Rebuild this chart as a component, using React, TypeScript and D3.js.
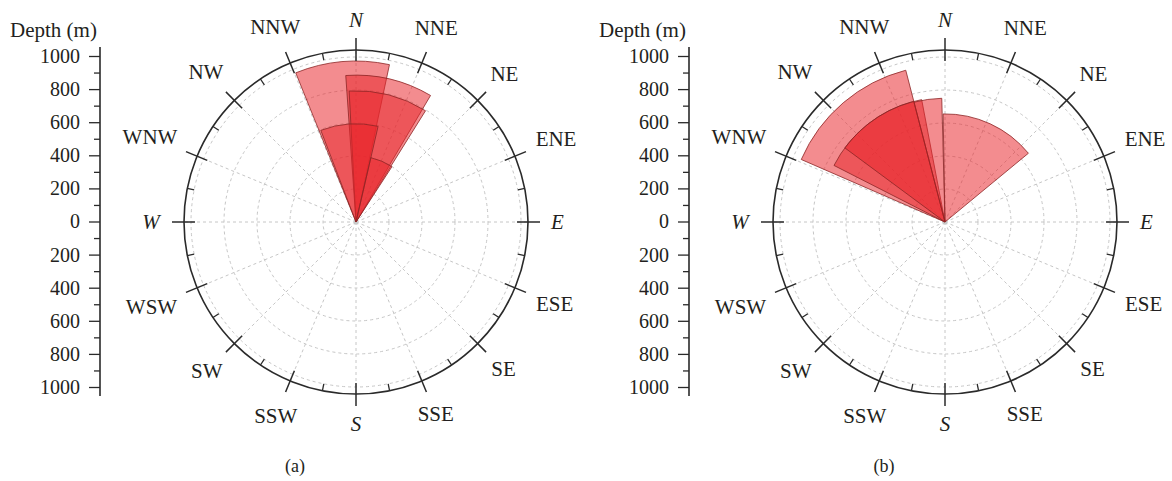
import React, { useEffect, useRef } from 'react';
import * as d3 from 'd3';

const directions = ['N', 'NNE', 'NE', 'ENE', 'E', 'ESE', 'SE', 'SSE', 'S', 'SSW', 'SW', 'WSW', 'W', 'WNW', 'NW', 'NNW'];
const cardinals = ['N', 'E', 'S', 'W'];
const depthRings = [200, 400, 600, 800, 1000];
const depthMajor = [-1000, -800, -600, -400, -200, 0, 200, 400, 600, 800, 1000];
const depthMinor = [-900, -700, -500, -300, -100, 100, 300, 500, 700, 900];

// panel (a): sector azimuths (deg) and depth (m)
const aStart = [-22, -4, -3, -21, 13];
const aEnd = [12, 30.5, 32, 13, 33];
const aDepth = [975, 890, 795, 595, 400];

// panel (b)
const bStart = [-66.5, -63, -53.5, -14.5, -1];
const bEnd = [-14.5, -14.5, -10.8, -1.5, 50.5];
const bDepth = [950, 755, 755, 750, 655];

const FONT = '"Liberation Serif", "DejaVu Serif", serif';
const INK = '#231f20';
const LABEL_SIZE = 21;
const charW: Record<string, number> = { N: 0.722, E: 0.611, S: 0.556, W: 0.944 };

function drawPanel(svg: any, ox: number, starts: number[], ends: number[], depths: number[], tag: string) {
  const cx = ox + 356;
  const cy = 222;
  const r = d3.scaleLinear().domain([0, 1000]).range([0, 165]);
  const rOuter = 172;
  const rad = (deg: number) => (deg * Math.PI) / 180;

  const g = svg.append('g').attr('transform', `translate(${cx},${cy})`);

  // dashed grid
  g.selectAll('circle.ring')
    .data(depthRings)
    .join('circle')
    .attr('class', 'ring')
    .attr('r', (d: number) => r(d))
    .attr('fill', 'none')
    .attr('stroke', '#c6c6c6')
    .attr('stroke-width', 1)
    .attr('stroke-dasharray', '3,3');

  g.selectAll('line.spoke')
    .data(d3.range(16))
    .join('line')
    .attr('class', 'spoke')
    .attr('x2', (i: number) => rOuter * Math.sin(rad(i * 22.5)))
    .attr('y2', (i: number) => -rOuter * Math.cos(rad(i * 22.5)))
    .attr('stroke', '#c6c6c6')
    .attr('stroke-width', 1)
    .attr('stroke-dasharray', '3,3');

  // sectors
  const arc = d3.arc<any>();
  const data = starts.map((s, i) => ({ s, e: ends[i], d: depths[i] }));
  g.selectAll('path.wedge')
    .data(data)
    .join('path')
    .attr('class', 'wedge')
    .attr('d', (d: any) =>
      arc({ innerRadius: 0, outerRadius: r(d.d), startAngle: rad(d.s), endAngle: rad(d.e) })
    )
    .attr('fill', '#e8262b')
    .attr('fill-opacity', 0.53)
    .attr('stroke', '#8c2626')
    .attr('stroke-opacity', 0.8)
    .attr('stroke-width', 1)
    .attr('stroke-linejoin', 'round');

  // outer ring + ticks
  g.append('circle').attr('r', rOuter).attr('fill', 'none').attr('stroke', '#2a2a2a').attr('stroke-width', 1.6);

  g.selectAll('line.major')
    .data(d3.range(16))
    .join('line')
    .attr('class', 'major')
    .attr('x1', (i: number) => 161 * Math.sin(rad(i * 22.5)))
    .attr('y1', (i: number) => -161 * Math.cos(rad(i * 22.5)))
    .attr('x2', (i: number) => 184 * Math.sin(rad(i * 22.5)))
    .attr('y2', (i: number) => -184 * Math.cos(rad(i * 22.5)))
    .attr('stroke', '#2a2a2a')
    .attr('stroke-width', 1.5);

  g.selectAll('line.minor')
    .data(d3.range(16))
    .join('line')
    .attr('class', 'minor')
    .attr('x1', (i: number) => 165 * Math.sin(rad(i * 22.5 + 11.25)))
    .attr('y1', (i: number) => -165 * Math.cos(rad(i * 22.5 + 11.25)))
    .attr('x2', (i: number) => rOuter * Math.sin(rad(i * 22.5 + 11.25)))
    .attr('y2', (i: number) => -rOuter * Math.cos(rad(i * 22.5 + 11.25)))
    .attr('stroke', '#2a2a2a')
    .attr('stroke-width', 1.3);

  // compass labels
  const labelPos = (name: string, i: number) => {
    const th = rad(i * 22.5);
    const w = name.split('').reduce((a, c) => a + charW[c] * LABEL_SIZE, 0);
    const R = 195 + (w / 2) * Math.abs(Math.sin(th)) + 7 * Math.abs(Math.cos(th));
    return [R * Math.sin(th), -R * Math.cos(th)];
  };
  g.selectAll('text.dir')
    .data(directions)
    .join('text')
    .attr('class', 'dir')
    .attr('x', (d: string, i: number) => labelPos(d, i)[0])
    .attr('y', (d: string, i: number) => labelPos(d, i)[1])
    .attr('dy', '0.33em')
    .attr('text-anchor', 'middle')
    .attr('font-family', FONT)
    .attr('font-size', LABEL_SIZE)
    .attr('font-style', (d: string) => (cardinals.includes(d) ? 'italic' : 'normal'))
    .attr('fill', INK)
    .text((d: string) => d);

  // depth axis
  const y = d3.scaleLinear().domain([-1000, 1000]).range([cy + 165, cy - 166]);
  const ax = svg.append('g').attr('transform', `translate(${ox + 100},0)`).attr('color', '#2a2a2a');
  ax.append('g')
    .call(d3.axisLeft(y).tickValues(depthMinor).tickSize(6).tickSizeOuter(0).tickFormat(() => ''))
    .call((s: any) => s.select('.domain').remove())
    .selectAll('line')
    .attr('stroke-width', 1.3);
  const major = ax
    .append('g')
    .call(
      d3
        .axisLeft(y)
        .tickValues(depthMajor)
        .tickSize(11)
        .tickSizeOuter(0)
        .tickPadding(9)
        .tickFormat((d: any) => String(Math.abs(d)))
    )
    .attr('font-family', FONT)
    .attr('font-size', 20);
  major.select('.domain').remove();
  major.selectAll('line').attr('stroke-width', 1.3);
  major.selectAll('text').attr('fill', INK);
  ax.append('line')
    .attr('y1', y(1000) - 9)
    .attr('y2', y(-1000) + 9)
    .attr('stroke', '#2a2a2a')
    .attr('stroke-width', 1.6);

  svg.append('text')
    .attr('x', ox + 10)
    .attr('y', 37)
    .attr('font-family', FONT)
    .attr('font-size', LABEL_SIZE)
    .attr('fill', INK)
    .text('Depth (m)');

  svg.append('text')
    .attr('x', cx - 61)
    .attr('y', 472)
    .attr('text-anchor', 'middle')
    .attr('font-family', FONT)
    .attr('font-size', 18)
    .attr('fill', INK)
    .text(tag);
}

export default function App() {
  const ref = useRef<SVGSVGElement>(null);

  useEffect(() => {
    const svg = d3.select(ref.current);
    svg.selectAll('*').remove();
    drawPanel(svg, 0, aStart, aEnd, aDepth, '(a)');
    drawPanel(svg, 589, bStart, bEnd, bDepth, '(b)');
  }, []);

  return (
    <svg
      ref={ref}
      width={1172}
      height={481}
      style={{ position: 'absolute', left: 0, top: 0, background: '#fff' }}
    />
  );
}
